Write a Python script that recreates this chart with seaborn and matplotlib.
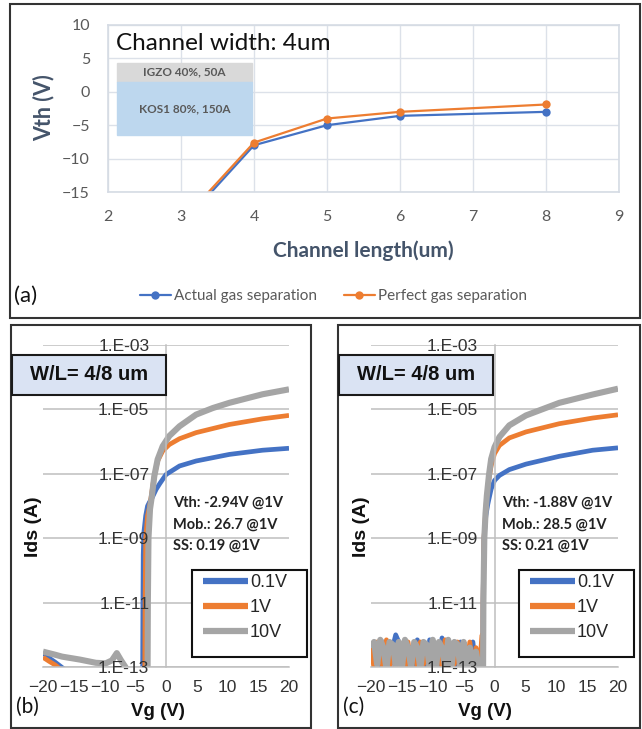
import numpy as np
import matplotlib
matplotlib.use("Agg")
import matplotlib.pyplot as plt
from matplotlib.patches import Rectangle
from matplotlib.ticker import FuncFormatter, NullLocator
import seaborn as sns

# ---- (a) Vth vs channel length (W = 4 um)
length_um = [3, 4, 5, 6, 8]
vth_actual = [-20.0, -8.0, -5.0, -3.6, -3.0]
vth_perfect = [-19.5, -7.6, -4.0, -3.0, -1.9]
series_a = ["Actual gas separation", "Perfect gas separation"]

# ---- (b) transfer curves, W/L = 4/8 um
vg_b_01 = [-20, -19, -18, -17, -16, -10, -5, -3.8, -3.75, -3.7, -3.6, -3.3, -3.0,
           -2.7, -2.2, -1.6, -1.0, 0, 2.2, 4.9, 10.3, 15.7, 20]
ids_b_01 = [2.7e-13, 1.9e-13, 1.4e-13, 1.0e-13, 7e-14, 5e-14, 5e-14, 5e-14, 1e-11,
            3e-10, 1.5e-9, 5e-9, 1e-8, 1.3e-8, 1.9e-8, 3.3e-8, 5e-8, 9.5e-8,
            1.75e-7, 2.5e-7, 4e-7, 5.4e-7, 6.2e-7]
vg_b_1 = [-20, -19, -18, -17, -16.5, -10, -5, -3.45, -3.4, -3.3, -3.0, -2.7, -2.4,
          -2.1, -1.9, -1.36, -0.54, 0.54, 2.2, 4.9, 10.3, 15.7, 20]
ids_b_1 = [2e-13, 1.5e-13, 1.15e-13, 8e-14, 6e-14, 5e-14, 5e-14, 5e-14, 1e-11, 1e-9,
           5e-9, 9e-9, 2e-8, 5e-8, 8.5e-8, 2.5e-7, 5.1e-7, 8.1e-7, 1.23e-6, 1.9e-6,
           3.4e-6, 5.1e-6, 6.5e-6]
vg_b_10 = [-20, -18, -16.9, -14, -11.4, -9.8, -8.8, -8.0, -7.3, -6.6, -6.0, -4, -3.0,
           -2.95, -2.85, -2.6, -2.3, -1.9, -1.36, -0.54, 0.54, 2.2, 4.9, 7.6, 10.3,
           15.7, 20]
ids_b_10 = [3e-13, 2.4e-13, 2.1e-13, 1.7e-13, 1.35e-13, 1.3e-13, 1.6e-13, 2.7e-13,
            1.6e-13, 1.0e-13, 5e-14, 5e-14, 5e-14, 1e-11, 1e-9, 8e-9, 2e-8, 8.5e-8,
            2.8e-7, 7.2e-7, 1.5e-6, 3e-6, 6.9e-6, 1.1e-5, 1.6e-5, 2.95e-5, 4.2e-5]

# ---- (c) transfer curves, W/L = 4/8 um (noisy off-state floor)
vg_c_floor = [-20, -19.5, -19, -18.5, -18, -17.5, -17, -16.5, -16, -15.5, -15, -14.5,
              -14, -13.5, -13, -12.5, -12, -11.5, -11, -10.5, -10, -9.5, -9, -8.5,
              -8, -7.5, -7, -6.5, -6, -5.5, -5, -4.5, -4, -3.5, -3, -2.5, -2]
ids_c_01_floor = [6e-13, 1.2e-13, 5e-13, 9e-14, 6e-13, 3e-13, 8e-14, 4e-13, 1e-12,
                  6e-13, 1e-13, 5e-13, 9e-14, 4e-13, 1.2e-13, 7e-13, 8e-14, 4e-13,
                  1e-13, 7e-13, 9e-14, 5e-13, 1.2e-13, 8e-13, 8e-14, 4e-13, 1e-13,
                  6e-13, 8e-14, 6e-13, 9e-14, 4e-13, 1e-13, 6e-13, 9e-14, 3e-13, 1.2e-13]
ids_c_1_floor = [6e-13, 8e-14, 6e-13, 2e-13, 9e-14, 7e-13, 1e-13, 5e-13, 8e-14,
                 6e-13, 2e-13, 8e-14, 6e-13, 1e-13, 5e-13, 9e-14, 6e-13, 1.2e-13,
                 4e-13, 8e-14, 6e-13, 1e-13, 5e-13, 9e-14, 7e-13, 8e-14, 5e-13,
                 1.2e-13, 6e-13, 8e-14, 4e-13, 9e-14, 6e-13, 1e-13, 4e-13, 9e-14, 1e-12]
ids_c_10_floor = [4e-13, 6e-13, 1.2e-13, 7e-13, 4e-13, 9e-14, 6e-13, 5e-13, 1.2e-13,
                  6e-13, 9e-14, 7e-13, 4e-13, 1e-13, 6e-13, 4e-13, 9e-14, 6e-13,
                  5e-13, 1e-13, 7e-13, 9e-14, 6e-13, 4e-13, 1e-13, 7e-13, 9e-14,
                  6e-13, 5e-13, 9e-14, 6e-13, 1e-13, 4e-13, 9e-14, 3e-13, 8e-14, 9e-14]
vg_c_01_on = [-1.9, -1.85, -1.7, -1.4, -1.1, -0.9, -0.54, 0, 0.8, 2.4, 5.1, 10.5, 15.9, 20]
ids_c_01_on = [8e-14, 1e-11, 1e-9, 5e-9, 1.1e-8, 1.66e-8, 3.4e-8, 6.2e-8, 8.9e-8,
               1.35e-7, 2.0e-7, 3.5e-7, 5.4e-7, 6.4e-7]
vg_c_1_on = [-1.9, -1.85, -1.7, -1.45, -1.24, -0.9, -0.54, 0, 0.8, 2.4, 5.1, 10.5, 15.9, 20]
ids_c_1_on = [8e-14, 1e-11, 1e-9, 6e-9, 2.1e-8, 6.9e-8, 1.8e-7, 4.2e-7, 7.6e-7, 1.3e-6,
              2e-6, 3.6e-6, 5.4e-6, 6.8e-6]
vg_c_10_on = [-1.85, -1.8, -1.65, -1.45, -1.24, -0.9, -0.54, 0, 0.8, 2.4, 5.1, 10.5, 15.9, 20]
ids_c_10_on = [8e-14, 1e-11, 1e-9, 6e-9, 2.1e-8, 9e-8, 2.9e-7, 6.7e-7, 1.4e-6, 3.2e-6,
               6.5e-6, 1.6e-5, 2.9e-5, 4.4e-5]

vd_labels = ["0.1V", "1V", "10V"]
decades = [1e-3, 1e-5, 1e-7, 1e-9, 1e-11, 1e-13]
notes_b = ["Vth: -2.94V @1V", "Mob.: 26.7 @1V", "SS: 0.19 @1V"]
notes_c = ["Vth: -1.88V @1V", "Mob.: 28.5 @1V", "SS: 0.21 @1V"]

BLUE, ORANGE, GREY = "#4472C4", "#ED7D31", "#A5A5A5"

sns.set_style("white")
plt.rcParams["font.family"] = ["Liberation Sans", "DejaVu Sans"]

W, H = 642, 729
fig = plt.figure(figsize=(W / 100, H / 100), dpi=100)


def fx(px):
    return px / W


def fy(py):
    return 1 - py / H


def box(x0, y0, x1, y1):
    return [x0 / W, 1 - y1 / H, (x1 - x0) / W, (y1 - y0) / H]


def frame(x0, y0, x1, y1, face="none", lw=1.5, edge="#333333"):
    fig.add_artist(Rectangle((fx(x0), fy(y1)), (x1 - x0) / W, (y1 - y0) / H,
                             transform=fig.transFigure, facecolor=face,
                             edgecolor=edge, lw=lw, zorder=1))


# panel outlines
frame(10, 4, 640, 318)
frame(11, 325, 311, 728)
frame(338, 325, 640, 728)

# ================= (a)
ax = fig.add_axes(box(108, 25, 619, 192))
sns.lineplot(x=length_um, y=vth_actual, ax=ax, color=BLUE, lw=1.6, marker="o",
             markersize=6, markeredgewidth=0, label=series_a[0])
sns.lineplot(x=length_um, y=vth_perfect, ax=ax, color=ORANGE, lw=1.6, marker="o",
             markersize=6, markeredgewidth=0, label=series_a[1])
ax.set_xlim(2, 9)
ax.set_ylim(-15, 10)
ax.set_xticks(range(2, 10))
ax.set_yticks(range(-15, 11, 5))
ax.set_axisbelow(True)
ax.grid(True, color="#DCE1E9", lw=1)
for s in ax.spines.values():
    s.set_color("#D5DBE4")
    s.set_linewidth(1.2)
ax.tick_params(length=0, labelsize=11.5, labelcolor="#595959")
ax.tick_params(axis="y", pad=13)
ax.tick_params(axis="x", pad=13)
for lab in ax.get_xticklabels() + ax.get_yticklabels():
    lab.set_family("Lato")
ax.set_xlabel("")
ax.set_ylabel("")
ax.add_patch(Rectangle((2.12, 1.47), 1.85, 2.83, color="#D9D9D9", zorder=1.5))
ax.add_patch(Rectangle((2.12, -6.47), 1.85, 7.94, color="#BDD7EE", zorder=1.5))
ax.text(3.05, 3.0, "IGZO 40%, 50A", ha="center", va="center", fontsize=8.5,
        family="Lato", weight="bold", color="#595959", zorder=3)
ax.text(3.05, -2.6, "KOS1 80%, 150A", ha="center", va="center", fontsize=8.5,
        family="Lato", weight="bold", color="#595959", zorder=3)
h, l = ax.get_legend_handles_labels()
ax.get_legend().remove()
fig.legend(h, l, loc="center left", bbox_to_anchor=(fx(140), fy(296)),
           bbox_transform=fig.transFigure, ncol=2, frameon=False,
           prop={"family": "Lato", "size": 11}, labelcolor="#595959",
           handlelength=2.0, handletextpad=0.2, columnspacing=1.8,
           borderpad=0, borderaxespad=0)
fig.text(fx(116), fy(43), "Channel width: 4um", va="center", ha="left",
         fontsize=17.5, family="Lato", color="#111111")
fig.text(fx(363), fy(251), "Channel length(um)", ha="center", va="center",
         fontsize=15, family="Lato", weight="bold", color="#44546A")
fig.text(fx(44), fy(108), "Vth (V)", ha="center", va="center", rotation=90,
         fontsize=15.5, family="Lato", weight="bold", color="#44546A")
fig.text(fx(14), fy(296), "(a)", ha="left", va="center", fontsize=16,
         family="Lato", color="#111111")


# ================= (b), (c)
def transfer_panel(rect, curves, notes, ox, tag):
    ax = fig.add_axes(box(*rect))
    # gridlines under the curves, tick labels above them
    for d in decades:
        ax.axhline(d, color="#BFBFBF", lw=1.1, zorder=1)
    for (vg, ids), col, lw, lab in zip(curves, [BLUE, ORANGE, GREY],
                                       [3.4, 3.4, 4.4], vd_labels):
        sns.lineplot(x=vg, y=ids, ax=ax, color=col, lw=lw, label=lab,
                     estimator=None, solid_capstyle="butt")
    ax.set_yscale("log")
    ax.set_xlim(-20, 20)
    ax.set_ylim(1e-13, 1e-3)
    ax.set_xticks(range(-20, 21, 5))
    ax.set_yticks(decades)
    ax.yaxis.set_minor_locator(NullLocator())
    ax.yaxis.set_major_formatter(
        FuncFormatter(lambda v, p: "1.E-%02d" % int(round(-np.log10(v)))))
    ax.spines["left"].set_position(("data", 0))
    ax.spines[["top", "right"]].set_visible(False)
    for s in ("left", "bottom"):
        ax.spines[s].set_color("#BFBFBF")
        ax.spines[s].set_linewidth(1.1)
    ax.grid(False)
    ax.set_axisbelow(False)
    ax.tick_params(axis="y", length=0, pad=12, labelsize=12.5, labelcolor="#333333")
    ax.tick_params(axis="x", length=5, width=1.1, color="#BFBFBF", pad=4,
                   labelsize=12.5, labelcolor="#333333")
    ax.set_xlabel("")
    ax.set_ylabel("")
    h, l = ax.get_legend_handles_labels()
    ax.get_legend().remove()

    # W/L label box
    frame(ox + 1, 355, ox + 155, 395, face="#DAE3F3", edge="#1A1A1A")
    fig.text(fx(ox + 78), fy(375), "W/L= 4/8 um", ha="center", va="center",
             fontsize=14.5, weight="bold", color="#111111")
    # extracted parameters
    for i, t in enumerate(notes):
        fig.text(fx(ox + 162 if tag == "(b)" else ox + 164), fy(503 + 21.5 * i), t,
                 ha="left", va="center", fontsize=10.5, family="Lato",
                 weight="bold", color="#222222")
    # legend with its own frame
    frame(ox + 181, 570, ox + 296, 657, face="white", edge="#111111")
    leg = fig.legend(h, l, loc="upper left", bbox_to_anchor=(fx(ox + 192), fy(574)),
                     bbox_transform=fig.transFigure, frameon=False, fontsize=13,
                     handlelength=2.5, handletextpad=0.1, labelspacing=0.45,
                     borderpad=0, borderaxespad=0)
    for ln in leg.get_lines():
        ln.set_linewidth(4.5)
    fig.text(fx(ox + 147), fy(711), "Vg (V)", ha="center", va="center",
             fontsize=13.5, weight="bold", color="#111111")
    fig.text(fx(ox + 23), fy(527), "Ids (A)", ha="center", va="center",
             rotation=90, fontsize=14, weight="bold", color="#111111")
    fig.text(fx(ox + 5), fy(707), tag, ha="left", va="center", fontsize=15,
             family="Lato", color="#111111")


transfer_panel((43, 345, 289, 667),
               [(vg_b_01, ids_b_01), (vg_b_1, ids_b_1), (vg_b_10, ids_b_10)],
               notes_b, 11, "(b)")
transfer_panel((371, 345, 618, 667),
               [(vg_c_floor + vg_c_01_on, ids_c_01_floor + ids_c_01_on),
                (vg_c_floor + vg_c_1_on, ids_c_1_floor + ids_c_1_on),
                (vg_c_floor + vg_c_10_on, ids_c_10_floor + ids_c_10_on)],
               notes_c, 338, "(c)")

fig.savefig("out.png", dpi=100, facecolor="white")
